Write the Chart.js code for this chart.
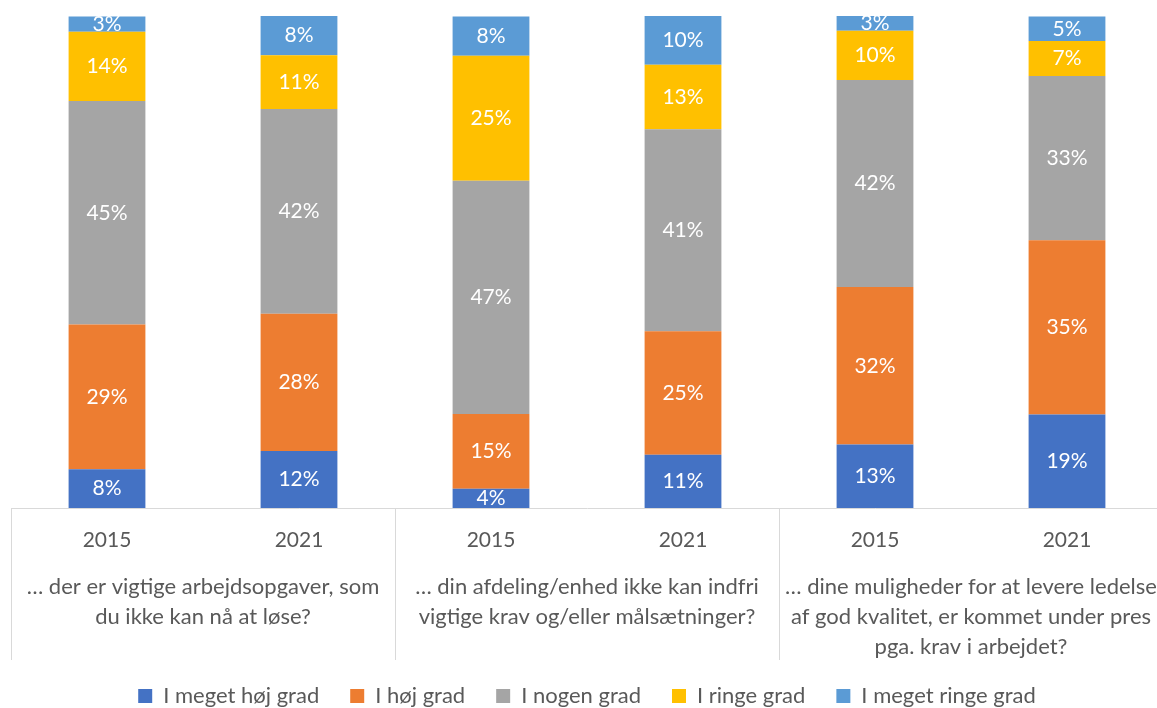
<!DOCTYPE html>
<html>
<head>
<meta charset="utf-8">
<script src="https://cdn.jsdelivr.net/npm/chart.js@4.4.1/dist/chart.umd.min.js"></script>
<style>
  html, body { margin: 0; padding: 0; background: #fff; overflow: hidden; }
  #wrap { width: 1163px; height: 708px; }
</style>
</head>
<body>
<div id="wrap"><canvas id="chart" width="1163" height="708"></canvas></div>
<script>
const years = ['2015', '2021', '2015', '2021', '2015', '2021'];
const groups = [
  ['… der er vigtige arbejdsopgaver, som', 'du ikke kan nå at løse?'],
  ['… din afdeling/enhed ikke kan indfri', 'vigtige krav og/eller målsætninger?'],
  ['… dine muligheder for at levere ledelse', 'af god kvalitet, er kommet under pres', 'pga. krav i arbejdet?']
];

const seriesNames = ['I meget høj grad', 'I høj grad', 'I nogen grad', 'I ringe grad', 'I meget ringe grad'];
const meget_hoej = [7.9, 11.6, 3.9, 10.8, 12.9, 19.0];
const hoej = [29.4, 27.9, 15.2, 25.1, 32.0, 35.4];
const nogen = [45.4, 41.6, 47.4, 41.1, 42.1, 33.4];
const ringe = [14.1, 10.9, 25.4, 13.1, 10.0, 7.1];
const meget_ringe = [3.1, 8.0, 8.0, 9.9, 3.0, 5.0];
const colors = ['#4472C4', '#ED7D31', '#A5A5A5', '#FFC000', '#5B9BD5'];

const FONT = 'Lato';
const textColor = '#595959';
const lineColor = '#D9D9D9';

// white percent labels in the middle of each segment
const segmentLabels = {
  id: 'segmentLabels',
  afterDatasetsDraw(chart) {
    const ctx = chart.ctx;
    ctx.save();
    ctx.font = '21px ' + FONT;
    ctx.fillStyle = '#ffffff';
    ctx.textAlign = 'center';
    ctx.textBaseline = 'middle';
    chart.data.datasets.forEach(function (ds, i) {
      const meta = chart.getDatasetMeta(i);
      meta.data.forEach(function (bar, j) {
        const mid = (bar.y + bar.base) / 2;
        ctx.fillText(Math.round(ds.data[j]) + '%', bar.x, mid);
      });
    });
    ctx.restore();
  }
};

// question texts and the vertical lines between the groups below the axis
const groupAxis = {
  id: 'groupAxis',
  afterDraw(chart) {
    const ctx = chart.ctx;
    const xs = chart.scales.x;
    const x2 = chart.scales.x2;
    const area = chart.chartArea;
    const step = xs.getPixelForValue(1) - xs.getPixelForValue(0);
    ctx.save();
    ctx.strokeStyle = lineColor;
    ctx.lineWidth = 1;
    for (let g = 0; g <= groups.length; g++) {
      const x = Math.round(xs.getPixelForValue(g * 2) - step / 2) + 0.5;
      ctx.beginPath();
      ctx.moveTo(x, area.bottom);
      ctx.lineTo(x, 660);
      ctx.stroke();
    }
    ctx.font = '22px ' + FONT;
    ctx.fillStyle = textColor;
    ctx.textAlign = 'center';
    ctx.textBaseline = 'middle';
    groups.forEach(function (lines, g) {
      const cx = (xs.getPixelForValue(g * 2) + xs.getPixelForValue(g * 2 + 1)) / 2;
      lines.forEach(function (line, k) {
        ctx.fillText(line, cx, x2.top + 36 + k * 30);
      });
    });
    ctx.restore();
  }
};

const seriesData = [meget_hoej, hoej, nogen, ringe, meget_ringe];

new Chart(document.getElementById('chart'), {
  type: 'bar',
  data: {
    labels: years,
    datasets: seriesNames.map(function (name, i) {
      return {
        label: name,
        data: seriesData[i],
        backgroundColor: colors[i],
        borderWidth: 0,
        barPercentage: 0.4,
        categoryPercentage: 1
      };
    })
  },
  options: {
    responsive: false,
    animation: false,
    layout: { padding: { left: 11, top: 16, right: 0, bottom: -9 } },
    plugins: {
      tooltip: { enabled: false },
      legend: {
        position: 'bottom',
        labels: {
          boxWidth: 14,
          boxHeight: 14,
          padding: 31,
          color: textColor,
          font: { family: FONT, size: 22 }
        }
      }
    },
    scales: {
      x: {
        stacked: true,
        grid: { display: false, drawTicks: false },
        border: { display: true, color: lineColor, width: 1 },
        ticks: {
          color: textColor,
          padding: 20,
          maxRotation: 0,
          autoSkip: false,
          font: { family: FONT, size: 21 }
        },
        afterFit: function (s) { s.height = 43; }
      },
      x2: {
        type: 'category',
        position: 'bottom',
        labels: ['', '', ''],
        grid: { display: false, drawTicks: false },
        border: { display: false },
        ticks: { display: false },
        afterFit: function (s) { s.height = 103; }
      },
      y: {
        stacked: true,
        display: false,
        min: 0,
        max: 100
      }
    }
  },
  plugins: [segmentLabels, groupAxis]
});
</script>
</body>
</html>
